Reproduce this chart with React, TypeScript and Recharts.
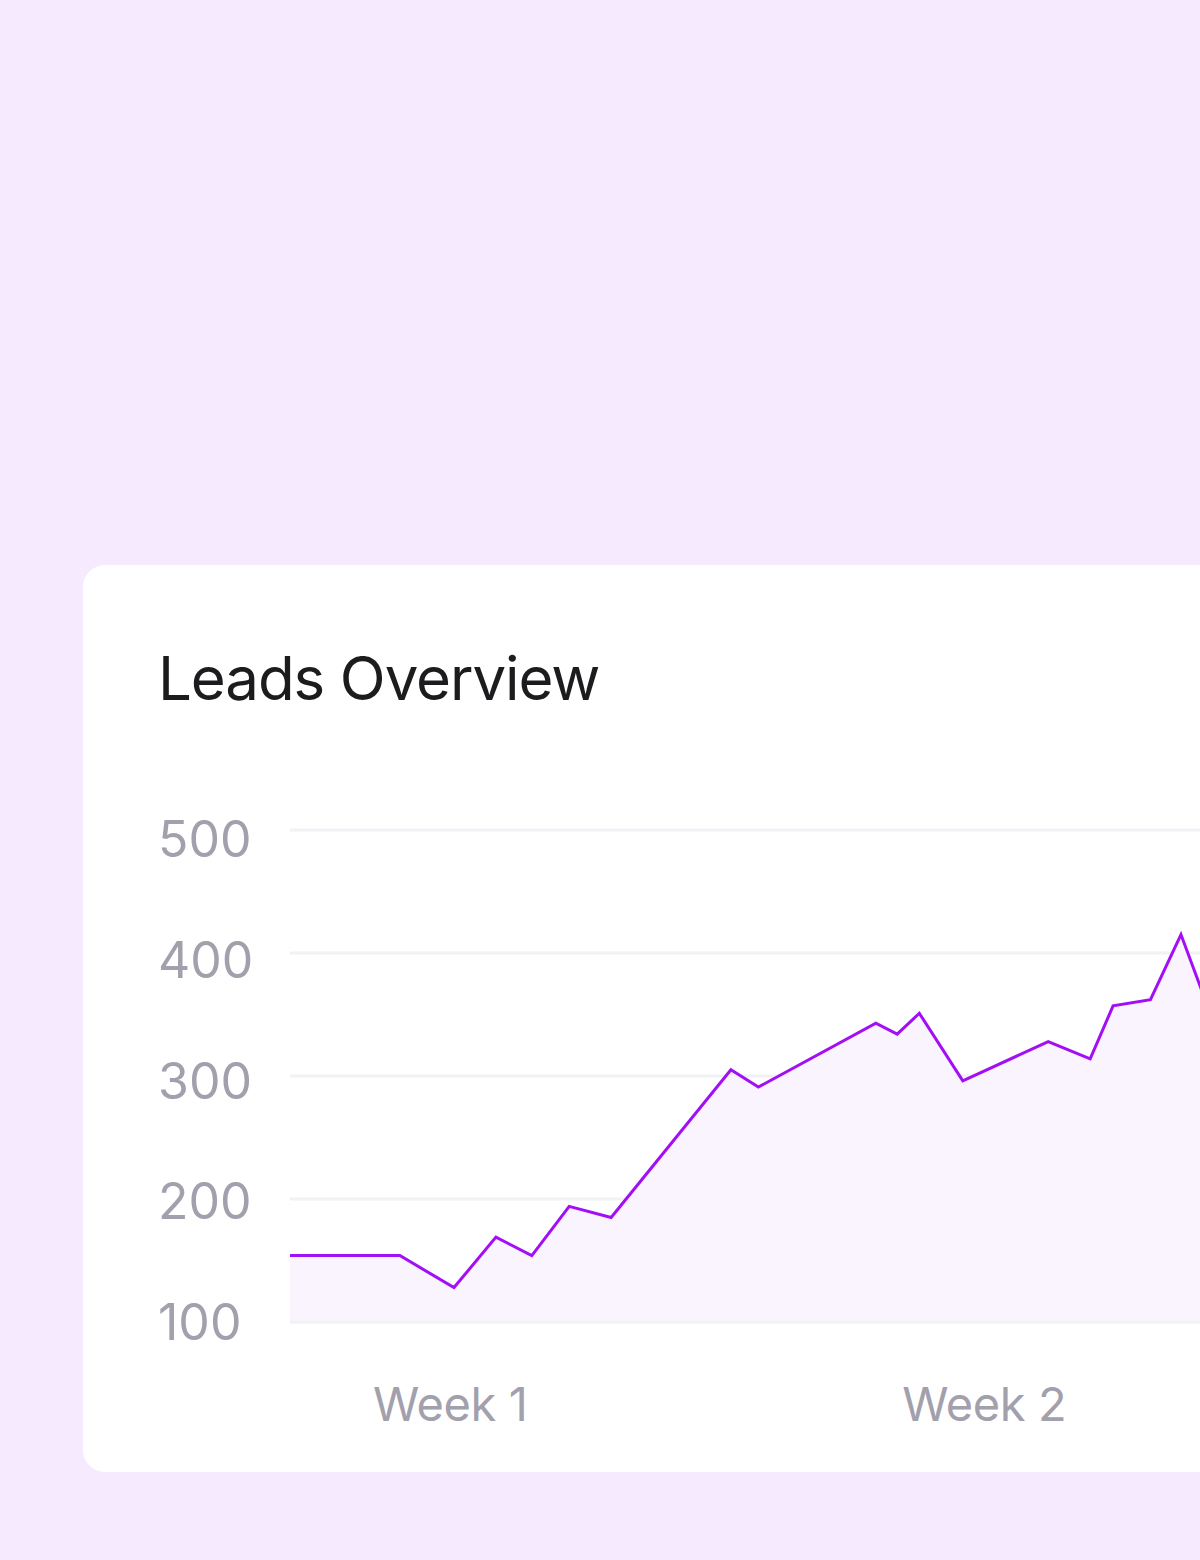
import { Area, AreaChart, CartesianGrid, ReferenceLine, XAxis, YAxis } from "recharts"

// x position of each reading, in days
const days = [4.9, 6.34, 7.05, 7.6, 8.07, 8.56, 9.11, 10.68, 11.04, 12.58, 12.86, 13.15, 13.72, 14.84, 15.39, 15.69, 16.18, 16.58, 17.0]
const leads = [154, 154, 128, 169, 154, 194, 185, 305, 291, 343, 334, 351, 296, 328, 314, 357, 362, 415, 345]

const weekTicks = [7, 14]
const weekLabels = ["Week 1", "Week 2"]
const leadTicks = [100, 200, 300, 400, 500]

const data = days.map((d, i) => ({ day: d, leads: leads[i] }))

const font = "Inter, 'Noto Sans', sans-serif"
const grey = "#A3A0AD"
const gridColor = "#F2F1F6"

function LeadTick(props: any) {
    const { y, payload } = props
    // labels sit a bit lower than their line at the top, level with it at the bottom
    const shift = 18 + ((payload.value - 100) / 400) * 9
    return (
        <text x={75} y={y + shift} textAnchor="start" fill={grey} fontSize={50} fontFamily={font}>
            {payload.value}
        </text>
    )
}

function WeekTick(props: any) {
    const { x, y, payload } = props
    const label = weekLabels[weekTicks.indexOf(payload.value)]
    return (
        <text x={x} y={y + 91} textAnchor="middle" fill={grey} fontSize={47} letterSpacing={-0.4} fontFamily={font}>
            {label}
        </text>
    )
}

export default function App() {
    return (
        <div
            style={{
                position: "absolute",
                left: 0,
                top: 0,
                width: 1200,
                height: 1560,
                overflow: "hidden",
                background: "#F6EAFE",
            }}
        >
            <div
                style={{
                    position: "absolute",
                    left: 83,
                    top: 565,
                    width: 1300,
                    height: 907,
                    background: "#FFFFFF",
                    borderRadius: 22,
                }}
            >
                <div
                    style={{
                        position: "absolute",
                        left: 75,
                        top: 75,
                        fontFamily: font,
                        fontSize: 60,
                        lineHeight: "76px",
                        color: "#1C1C1F",
                        letterSpacing: -1.1,
                    }}
                >
                    Leads Overview
                </div>
                <div style={{ position: "absolute", left: 0, top: 215 }}>
                    <AreaChart width={1300} height={692} data={data} margin={{ top: 50, right: 170, bottom: 0, left: 0 }}>
                        <CartesianGrid vertical={false} stroke={gridColor} strokeWidth={3} />
                        <XAxis
                            dataKey="day"
                            type="number"
                            domain={[4.9, 17]}
                            ticks={weekTicks}
                            axisLine={false}
                            tickLine={false}
                            height={150}
                            tick={<WeekTick />}
                        />
                        <YAxis
                            type="number"
                            domain={[100, 500]}
                            ticks={leadTicks}
                            axisLine={false}
                            tickLine={false}
                            width={207}
                            tick={<LeadTick />}
                        />
                        <Area
                            type="linear"
                            dataKey="leads"
                            stroke="#A20EF5"
                            strokeWidth={3}
                            fill="#FAF4FE"
                            fillOpacity={1}
                            dot={false}
                            activeDot={false}
                            isAnimationActive={false}
                        />
                        <ReferenceLine y={100} stroke={gridColor} strokeWidth={3} />
                    </AreaChart>
                </div>
            </div>
        </div>
    )
}
